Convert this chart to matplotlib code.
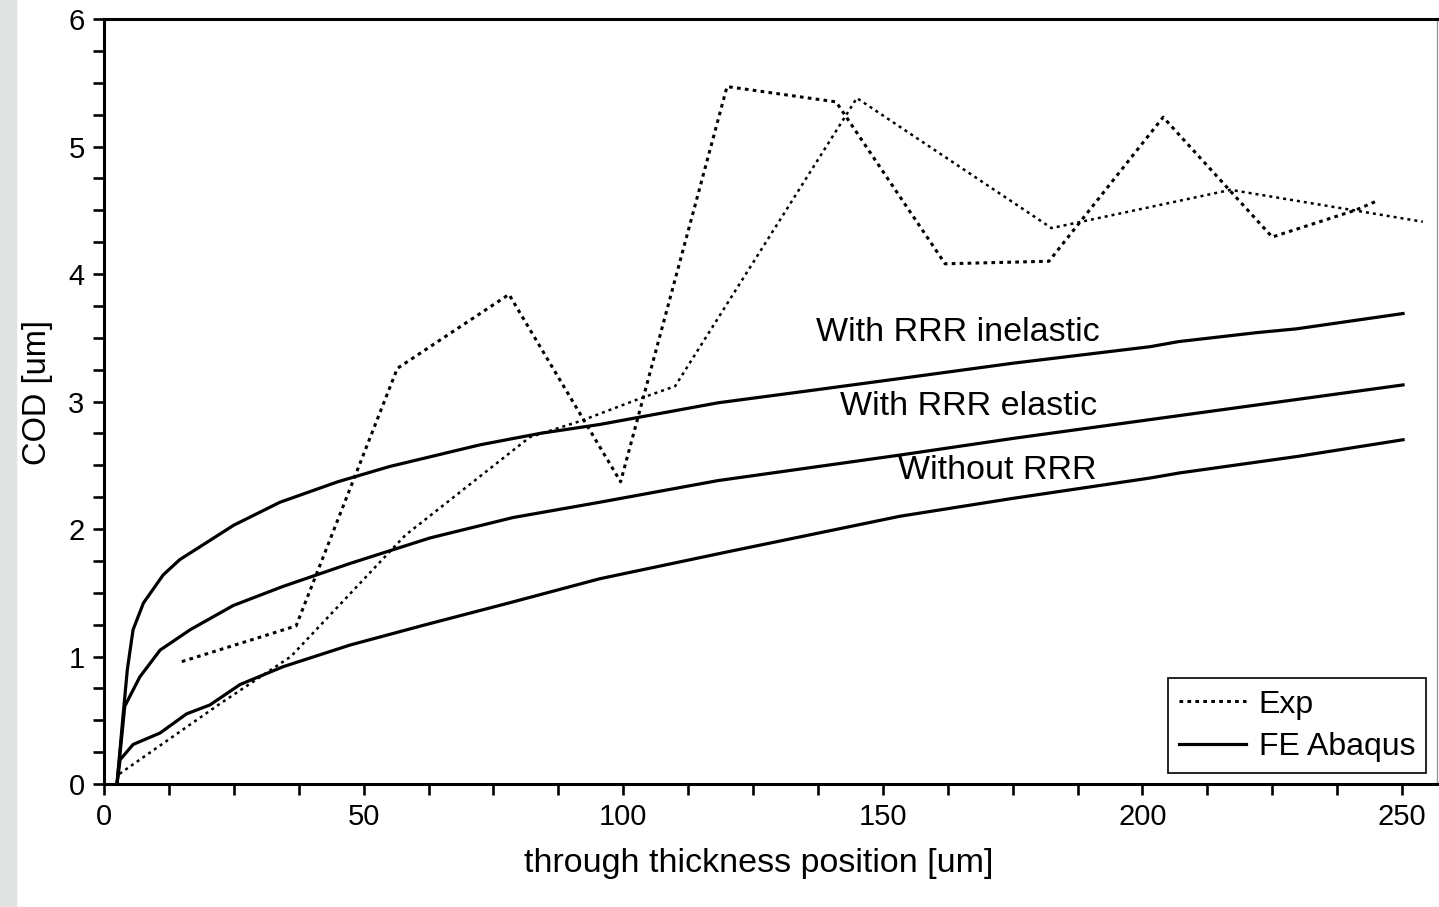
import numpy as np
import matplotlib
matplotlib.use("Agg")
import matplotlib.pyplot as plt
from matplotlib.patches import Rectangle
from matplotlib.ticker import MultipleLocator

plt.rcParams['font.family'] = ['Liberation Sans', 'DejaVu Sans']

# experimental COD, two measured profiles (dotted)
exp1_x = [15, 37, 56.5, 78, 99.5, 120, 141, 162, 182, 204, 225, 241, 245]
exp1_y = [0.96, 1.24, 3.26, 3.84, 2.37, 5.47, 5.35, 4.08, 4.10, 5.23, 4.29, 4.50, 4.57]

exp2_x = [3, 22, 36, 58, 82, 92, 103, 110, 145, 182.5, 217, 254]
exp2_y = [0.08, 0.62, 1.0, 1.95, 2.72, 2.85, 3.02, 3.12, 5.38, 4.36, 4.66, 4.41]

# FE Abaqus results
inel_x = [2.5, 3.7, 4.5, 5.6, 7.6, 11.4, 14.6, 20, 25, 33.9, 45, 55, 72.4, 84, 95.5,
          118.3, 135, 153.3, 175, 201.5, 207, 222, 229.7, 250.2]
inel_y = [0, 0.55, 0.9, 1.21, 1.42, 1.64, 1.76, 1.90, 2.03, 2.21, 2.37, 2.49, 2.66, 2.75, 2.82,
          2.99, 3.08, 3.18, 3.30, 3.43, 3.47, 3.54, 3.57, 3.69]

elas_x = [2.5, 4, 6.9, 10.8, 16.6, 24.9, 34.5, 47.4, 62.8, 78.8, 95.5, 118.3, 153.3, 175, 207.2, 250.2]
elas_y = [0, 0.61, 0.84, 1.05, 1.21, 1.40, 1.55, 1.73, 1.93, 2.09, 2.21, 2.38, 2.58, 2.71, 2.89, 3.13]

norr_x = [2.5, 3.1, 5.6, 10.8, 15.9, 20.4, 26.2, 34.5, 47.4, 62, 78, 95.5, 120, 153.3, 175,
          201.5, 207.2, 230, 250.2]
norr_y = [0, 0.19, 0.31, 0.40, 0.55, 0.62, 0.78, 0.92, 1.09, 1.25, 1.42, 1.61, 1.82, 2.10, 2.24,
          2.40, 2.44, 2.57, 2.70]

labels = ["With RRR inelastic", "With RRR elastic", "Without RRR"]
label_pos = [(164.5, 3.54), (166.6, 2.96), (172, 2.46)]

fig = plt.figure(figsize=(14.39, 9.07), dpi=100)
fig.patches.append(Rectangle((0, 0), 16 / 1439, 1, transform=fig.transFigure,
                             color='#e1e3e3', zorder=-5))

W, H = 1439, 907
left, right, bottom, top = 104, 1437, 784, 19
ax = fig.add_axes([left / W, 1 - bottom / H, (right - left) / W, (bottom - top) / H])

ax.plot(exp1_x, exp1_y, color='black', lw=2.2, linestyle=(0, (1.2, 1.4)), label='Exp')
ax.plot(exp2_x, exp2_y, color='black', lw=1.8, linestyle=(0, (1.2, 1.6)))
ax.plot(inel_x, inel_y, color='black', lw=2.3, label='FE Abaqus')
ax.plot(elas_x, elas_y, color='black', lw=2.3)
ax.plot(norr_x, norr_y, color='black', lw=2.3)

for txt, (tx, ty) in zip(labels, label_pos):
    ax.text(tx, ty, txt, fontsize=24.5, ha='center', va='center')

ax.set_xlim(0, (right - left) / 5.192)
ax.set_ylim(0, 6)
ax.xaxis.set_major_locator(MultipleLocator(50))
ax.xaxis.set_minor_locator(MultipleLocator(12.5))
ax.yaxis.set_major_locator(MultipleLocator(1))
ax.yaxis.set_minor_locator(MultipleLocator(0.25))
ax.tick_params(which='both', direction='out', length=8, width=1.9, labelsize=21, pad=6)

for s in ['left', 'top', 'bottom']:
    ax.spines[s].set_linewidth(2.2)
ax.spines['right'].set_color('#999999')
ax.spines['right'].set_linewidth(1.0)

ax.set_xlabel('through thickness position [um]', fontsize=24.5)
ax.set_ylabel('COD [um]', fontsize=23.5)
ax.xaxis.set_label_coords(0.491, -0.084)
ax.yaxis.set_label_coords(-0.038, 0.512)

leg = ax.legend(loc='lower right', bbox_to_anchor=(0.992, 0.0144), borderaxespad=0,
                fontsize=23, handlelength=2.1, labelspacing=0.38, fancybox=False,
                framealpha=1, edgecolor='black', borderpad=0.35, handletextpad=0.4)
leg.get_frame().set_linewidth(1.2)

fig.savefig('out.png', dpi=100)
